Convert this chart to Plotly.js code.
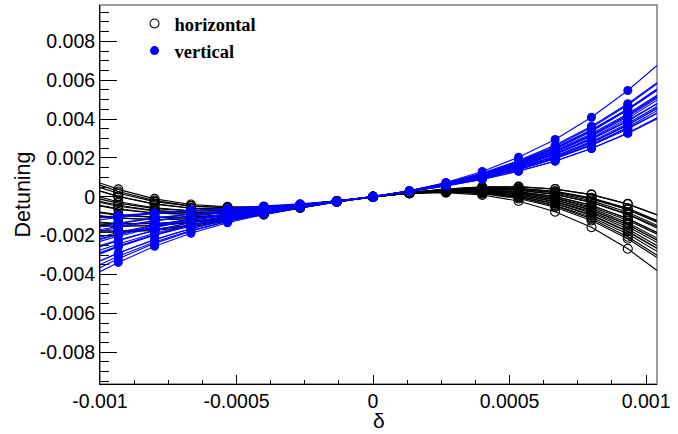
<!DOCTYPE html>
<html>
<head>
<meta charset="utf-8">
<script src="https://cdn.plot.ly/plotly-3.0.1.min.js"></script>
<style>
  html, body { margin: 0; padding: 0; background: #ffffff; }
  #chart { width: 678px; height: 434px; }
</style>
</head>
<body>
<div id="chart"></div>
<script>
// Momentum offsets (delta). First and last entries are the curve ends at the frame;
// the entries in between carry the plotted points.
const delta = [-0.001, -0.000933, -0.0008, -0.000667, -0.000533, -0.0004, -0.000267, -0.000133, 0,
               0.000133, 0.000267, 0.0004, 0.000533, 0.000667, 0.0008, 0.000933, 0.00104];

// Detuning values per seed, in units of 1e-4.
const UNIT = 1e-4;

const horizontalSeeds = [
  [-17.6, -17.6, -16.6, -14.7, -12.0, -8.8, -5.6, -2.6, 0, 1.8, 2.4, 1.6, -0.9, -5.4, -12.2, -21.6, -31.3],
  [-18.2, -18.0, -16.8, -14.7, -11.9, -8.8, -5.5, -2.5, 0, 1.8, 2.5, 1.9, -0.3, -4.4, -10.6, -19.2, -28.1],
  [-14.2, -14.7, -14.6, -13.3, -11.1, -8.4, -5.4, -2.5, 0, 1.8, 2.5, 1.9, -0.4, -4.7, -11.3, -20.6, -30.1],
  [-15.0, -15.3, -14.9, -13.4, -11.1, -8.3, -5.4, -2.5, 0, 1.8, 2.6, 2.2, 0.2, -3.6, -9.6, -18.0, -26.7],
  [-13.1, -13.7, -13.8, -12.7, -10.7, -8.1, -5.3, -2.5, 0, 1.8, 2.7, 2.4, 0.4, -3.4, -9.3, -17.7, -26.4],
  [-13.5, -14.0, -13.8, -12.6, -10.6, -8.0, -5.2, -2.5, 0, 1.9, 2.8, 2.6, 1.0, -2.4, -7.8, -15.5, -23.5],
  [-9.7, -10.8, -11.8, -11.3, -9.9, -7.7, -5.1, -2.4, 0, 1.9, 2.9, 2.6, 0.9, -2.7, -8.4, -16.6, -25.2],
  [-10.2, -11.1, -11.8, -11.3, -9.8, -7.6, -5.0, -2.4, 0, 1.9, 3.0, 2.9, 1.5, -1.7, -6.9, -14.4, -22.3],
  [-7.9, -9.2, -10.5, -10.5, -9.3, -7.4, -4.9, -2.4, 0, 1.9, 3.0, 3.0, 1.6, -1.6, -6.8, -14.3, -22.3],
  [-8.3, -9.5, -10.6, -10.4, -9.2, -7.3, -4.9, -2.4, 0, 1.9, 3.1, 3.3, 2.2, -0.6, -5.3, -12.1, -19.3],
  [-4.4, -6.2, -8.4, -9.1, -8.5, -6.9, -4.8, -2.4, 0, 2.0, 3.2, 3.3, 2.1, -0.9, -6.0, -13.4, -21.3],
  [-4.8, -6.5, -8.5, -9.0, -8.4, -6.8, -4.7, -2.3, 0, 2.0, 3.3, 3.6, 2.6, 0.0, -4.5, -11.2, -18.3],
  [-2.4, -4.4, -7.1, -8.2, -7.9, -6.6, -4.6, -2.3, 0, 2.0, 3.3, 3.7, 2.7, 0.2, -4.4, -11.3, -18.6],
  [-3.0, -4.9, -7.3, -8.2, -7.8, -6.5, -4.6, -2.3, 0, 2.0, 3.4, 4.0, 3.3, 1.2, -2.8, -8.9, -15.4],
  [-0.2, -2.6, -5.7, -7.2, -7.2, -6.2, -4.4, -2.3, 0, 2.0, 3.5, 4.1, 3.4, 1.2, -2.9, -9.2, -16.1],
  [-1.2, -3.3, -6.1, -7.3, -7.2, -6.2, -4.4, -2.3, 0, 2.1, 3.6, 4.4, 4.0, 2.3, -1.1, -6.6, -12.5],
  [3.0, 0.2, -3.8, -5.9, -6.5, -5.8, -4.3, -2.2, 0, 2.1, 3.6, 4.3, 3.9, 1.9, -2.0, -8.0, -14.7],
  [2.9, 0.1, -3.7, -5.8, -6.3, -5.7, -4.2, -2.2, 0, 2.1, 3.7, 4.6, 4.4, 2.8, -0.6, -6.0, -12.1],
  [6.0, 2.7, -2.0, -4.7, -5.7, -5.4, -4.1, -2.2, 0, 2.1, 3.8, 4.7, 4.4, 2.7, -0.9, -6.7, -13.1],
  [4.7, 1.8, -2.5, -4.9, -5.7, -5.4, -4.1, -2.2, 0, 2.1, 3.9, 5.0, 5.1, 3.9, 1.1, -3.7, -9.2],
  [7.1, 3.8, -1.1, -4.0, -5.2, -5.1, -4.0, -2.2, 0, 2.2, 4.0, 5.1, 5.2, 4.0, 1.1, -3.8, -9.4],
  [-18.3, -18.3, -17.4, -15.4, -12.5, -9.2, -5.8, -2.6, 0, 1.7, 2.1, 0.9, -2.2, -7.7, -15.7, -26.8, -38.0]
];

const verticalSeeds = [
  [-38.6, -33.8, -25.5, -18.8, -13.4, -9.1, -5.6, -2.7, 0, 2.6, 5.5, 8.9, 13.1, 18.3, 24.8, 32.8, 40.6],
  [-34.9, -30.6, -23.3, -17.4, -12.6, -8.7, -5.4, -2.6, 0, 2.7, 5.6, 9.0, 13.2, 18.4, 24.8, 32.6, 40.1],
  [-36.5, -31.9, -24.0, -17.7, -12.7, -8.7, -5.4, -2.6, 0, 2.7, 5.7, 9.4, 14.0, 19.7, 26.9, 35.8, 44.3],
  [-33.0, -29.0, -22.1, -16.5, -12.0, -8.3, -5.3, -2.6, 0, 2.7, 5.8, 9.4, 13.9, 19.5, 26.4, 34.8, 42.9],
  [-33.1, -29.0, -22.0, -16.4, -11.9, -8.2, -5.2, -2.6, 0, 2.7, 5.9, 9.7, 14.4, 20.4, 27.7, 36.8, 45.5],
  [-28.7, -25.4, -19.6, -14.9, -11.1, -7.8, -5.1, -2.5, 0, 2.7, 5.9, 9.6, 14.3, 19.9, 26.8, 35.2, 43.1],
  [-29.5, -25.9, -19.8, -15.0, -11.0, -7.8, -5.0, -2.5, 0, 2.8, 6.0, 10.0, 14.9, 21.0, 28.5, 37.7, 46.4],
  [-27.5, -24.3, -18.8, -14.3, -10.6, -7.6, -5.0, -2.5, 0, 2.8, 6.0, 10.0, 14.8, 20.8, 28.1, 37.0, 45.4],
  [-29.1, -25.5, -19.4, -14.6, -10.7, -7.6, -5.0, -2.5, 0, 2.8, 6.2, 10.3, 15.5, 22.1, 30.2, 40.2, 49.7],
  [-25.2, -22.3, -17.3, -13.3, -10.0, -7.3, -4.8, -2.5, 0, 2.8, 6.2, 10.3, 15.4, 21.8, 29.5, 38.9, 47.8],
  [-25.7, -22.6, -17.4, -13.3, -9.9, -7.2, -4.8, -2.5, 0, 2.8, 6.3, 10.6, 16.0, 22.8, 31.1, 41.2, 50.8],
  [-22.0, -19.6, -15.5, -12.1, -9.3, -6.9, -4.7, -2.4, 0, 2.8, 6.3, 10.5, 15.7, 22.1, 29.9, 39.2, 48.0],
  [-23.0, -20.3, -15.8, -12.2, -9.3, -6.8, -4.6, -2.4, 0, 2.9, 6.4, 10.8, 16.3, 23.2, 31.6, 41.9, 51.5],
  [-20.8, -18.4, -14.5, -11.4, -8.8, -6.6, -4.5, -2.4, 0, 2.9, 6.5, 10.9, 16.5, 23.4, 31.8, 42.0, 51.5],
  [-21.7, -19.2, -14.9, -11.5, -8.8, -6.5, -4.5, -2.4, 0, 2.9, 6.6, 11.2, 17.1, 24.5, 33.6, 44.6, 55.0],
  [-17.0, -15.2, -12.3, -9.9, -7.9, -6.1, -4.3, -2.4, 0, 2.9, 6.6, 11.2, 16.9, 23.9, 32.4, 42.7, 52.2],
  [-17.7, -15.8, -12.5, -10.0, -7.9, -6.1, -4.3, -2.3, 0, 2.9, 6.7, 11.5, 17.5, 25.0, 34.1, 45.2, 55.5],
  [-14.8, -13.4, -10.9, -9.0, -7.3, -5.8, -4.2, -2.3, 0, 3.0, 6.7, 11.5, 17.5, 25.0, 34.0, 44.7, 54.8],
  [-15.6, -13.9, -11.1, -9.0, -7.3, -5.7, -4.1, -2.3, 0, 3.0, 6.9, 11.8, 18.2, 26.0, 35.6, 47.2, 58.1],
  [-10.8, -10.0, -8.6, -7.4, -6.4, -5.3, -4.0, -2.3, 0, 3.0, 6.9, 11.8, 17.9, 25.4, 34.5, 45.2, 55.2],
  [-10.6, -9.7, -8.3, -7.1, -6.2, -5.1, -3.9, -2.2, 0, 3.0, 7.0, 12.2, 18.6, 26.6, 36.3, 47.9, 58.7],
  [-11.9, -10.6, -8.5, -7.0, -5.9, -4.9, -3.7, -2.2, 0, 3.1, 7.3, 13.0, 20.3, 29.5, 40.9, 54.7, 67.6]
];

const xTickVals = [-0.001, -0.0005, 0, 0.0005, 0.001];
const xTickText = ['-0.001', '-0.0005', '0', '0.0005', '0.001'];
const yTickVals = [-0.008, -0.006, -0.004, -0.002, 0, 0.002, 0.004, 0.006, 0.008];
const yTickText = ['-0.008', '-0.006', '-0.004', '-0.002', '0', '0.002', '0.004', '0.006', '0.008'];

const planes = [
  { name: 'horizontal', rows: horizontalSeeds, color: '#000000', symbol: 'circle-open' },
  { name: 'vertical', rows: verticalSeeds, color: '#0000ff', symbol: 'circle' }
];

const traces = [];
const pointX = delta.slice(1, -1);
planes.forEach(p => {
  p.rows.forEach(row => {
    traces.push({
      type: 'scatter', mode: 'lines',
      x: delta, y: row.map(v => v * UNIT),
      line: { color: p.color, width: 1.1 },
      showlegend: false, hoverinfo: 'skip'
    });
  });
  p.rows.forEach((row, i) => {
    traces.push({
      type: 'scatter', mode: 'markers',
      x: pointX, y: row.slice(1, -1).map(v => v * UNIT),
      name: p.name, showlegend: i === 0,
      marker: {
        symbol: p.symbol, size: 9, color: p.color,
        line: { color: p.color, width: p.symbol === 'circle-open' ? 1.1 : 0 }
      },
      hoverinfo: 'skip'
    });
  });
});

const axisFont = { family: 'Liberation Sans, Arial, sans-serif', size: 19.5, color: '#000000' };

const layout = {
  width: 678, height: 434,
  margin: { l: 100, r: 21, t: 5, b: 50 },
  paper_bgcolor: '#ffffff', plot_bgcolor: '#ffffff',
  showlegend: true,
  legend: {
    x: 0.062, y: 1.0, xanchor: 'left', yanchor: 'top',
    bgcolor: 'rgba(0,0,0,0)', borderwidth: 0,
    font: { family: 'Liberation Serif, Times New Roman, serif', size: 18.5, weight: 'bold', color: '#000000' },
    tracegroupgap: 0
  },
  xaxis: {
    range: [-0.001, 0.00104],
    tickmode: 'array', tickvals: xTickVals, ticktext: xTickText,
    ticks: 'inside', ticklen: 9, tickwidth: 1, tickcolor: '#000000',
    minor: { tick0: 0, dtick: 0.000125, ticks: 'inside', ticklen: 4.5, tickwidth: 1, tickcolor: '#000000', showgrid: false },
    showline: true, linecolor: '#000000', linewidth: 1, mirror: false,
    showgrid: false, zeroline: false,
    tickfont: axisFont
  },
  yaxis: {
    range: [-0.00964, 0.00987],
    tickmode: 'array', tickvals: yTickVals, ticktext: yTickText,
    ticks: 'inside', ticklen: 17, tickwidth: 1, tickcolor: '#000000',
    minor: { tick0: 0, dtick: 0.0005, ticks: 'inside', ticklen: 9, tickwidth: 1, tickcolor: '#000000', showgrid: false },
    showline: true, linecolor: '#000000', linewidth: 1, mirror: false,
    showgrid: false, zeroline: false,
    tickfont: axisFont,
    title: { text: 'Detuning', font: { family: 'Liberation Sans, Arial, sans-serif', size: 21.5, color: '#000000' }, standoff: 3 }
  },
  annotations: [{
    text: 'δ', xref: 'paper', yref: 'paper', x: 0.5, y: -0.1319,
    xanchor: 'center', yanchor: 'bottom', showarrow: false,
    font: { family: 'Liberation Sans, Arial, sans-serif', size: 21, color: '#000000' }
  }],
  shapes: [{
    type: 'rect', xref: 'paper', yref: 'paper', x0: 0, x1: 1, y0: 0, y1: 1,
    line: { color: '#808080', width: 1.5 }, layer: 'below'
  }]
};

Plotly.newPlot('chart', traces, layout, { displayModeBar: false, staticPlot: true });
</script>
</body>
</html>
